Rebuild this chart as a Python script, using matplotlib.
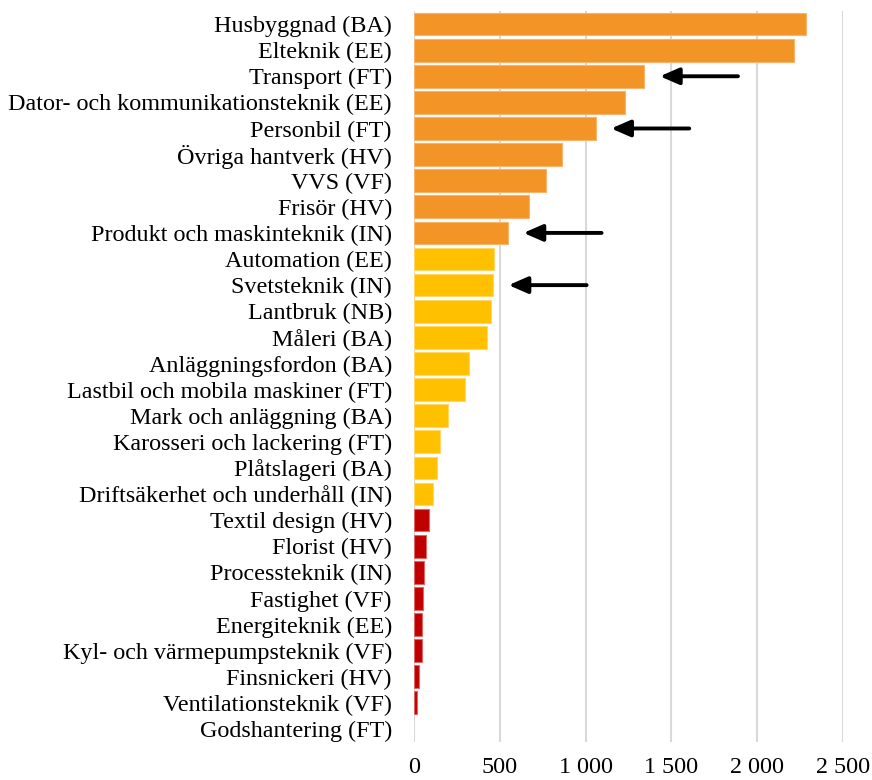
import numpy as np
import matplotlib
matplotlib.use("Agg")
import matplotlib.pyplot as plt

plt.rcParams['font.family'] = ['Liberation Serif', 'DejaVu Serif']

# data (top to bottom)
labels = ["Husbyggnad (BA)", "Elteknik (EE)", "Transport (FT)",
          "Dator- och kommunikationsteknik (EE)", "Personbil (FT)",
          "Övriga hantverk (HV)", "VVS (VF)", "Frisör (HV)",
          "Produkt och maskinteknik (IN)", "Automation (EE)",
          "Svetsteknik (IN)", "Lantbruk (NB)", "Måleri (BA)",
          "Anläggningsfordon (BA)", "Lastbil och mobila maskiner (FT)",
          "Mark och anläggning (BA)", "Karosseri och lackering (FT)",
          "Plåtslageri (BA)", "Driftsäkerhet och underhåll (IN)",
          "Textil design (HV)", "Florist (HV)", "Processteknik (IN)",
          "Fastighet (VF)", "Energiteknik (EE)",
          "Kyl- och värmepumpsteknik (VF)", "Finsnickeri (HV)",
          "Ventilationsteknik (VF)", "Godshantering (FT)"]
values = [2285, 2215, 1343, 1230, 1059, 863, 770, 670, 548, 466,
          461, 447, 426, 321, 297, 196, 154, 134, 113,
          86, 70, 58, 52, 49, 47, 29, 15, 0]
# group: 0 = orange, 1 = yellow, 2 = red
groups = [0] * 9 + [1] * 10 + [2] * 9
marked = ["Transport (FT)", "Personbil (FT)",
          "Produkt och maskinteknik (IN)", "Svetsteknik (IN)"]
xticks = [0, 500, 1000, 1500, 2000, 2500]

colors = ['#F39427', '#FFC000', '#C00000']
edges = ['#F7B46A', '#FFD766', '#E06666']

fig = plt.figure(figsize=(8.72, 7.8), dpi=100)
ax = fig.add_axes([414 / 872, 1 - 742 / 780, (843 - 414) / 872, 731 / 780])

y = np.arange(len(labels))
ax.barh(y, values, height=0.87,
        color=[colors[g] for g in groups],
        edgecolor=[edges[g] for g in groups],
        linewidth=[0.8 if v > 0 else 0 for v in values], zorder=3)

# arrows pointing at selected bars
for name in marked:
    i = labels.index(name)
    v = values[i]
    ax.annotate("", xy=(v + 90, i), xytext=(v + 545, i),
                arrowprops=dict(arrowstyle='-|>,head_length=1.15,head_width=0.5',
                                color='black', lw=2.8, shrinkA=0, shrinkB=0),
                zorder=5)

ax.set_ylim(len(labels) - 0.5, -0.5)
ax.set_xlim(0, 2500)
ax.set_yticks(y)
ax.set_yticklabels(labels, fontsize=17.4)
ax.set_xticks(xticks)
ax.set_xticklabels([f"{t:,}".replace(",", " ") for t in xticks], fontsize=17.4)
ax.tick_params(axis='y', length=0, pad=16)
ax.tick_params(axis='x', length=0, pad=11)
ax.grid(axis='x', color='#D9D9D9', lw=1.5, zorder=0)
for s in ax.spines.values():
    s.set_visible(False)

fig.savefig("out.png", dpi=100)
